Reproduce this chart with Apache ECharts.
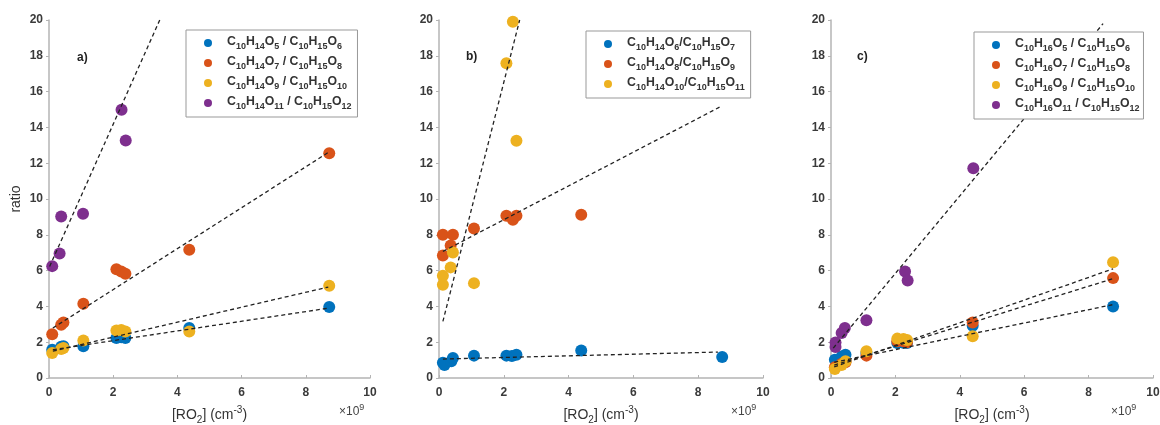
<!DOCTYPE html>
<html>
<head>
<meta charset="utf-8">
<script src="https://cdn.jsdelivr.net/npm/echarts@6/dist/echarts.min.js"></script>
<style>
  html, body { margin: 0; padding: 0; background: #fff; }
  #chart { width: 1160px; height: 425px; }
</style>
</head>
<body>
<div id="chart"></div>
<script>
// RO2 concentrations (x 1e9 cm-3) and ratios
var xA = [0.1, 0.38, 0.45, 1.07, 2.1, 2.25, 2.38, 4.37, 8.73];
var aBlue = [1.58, 1.75, 1.77, 1.78, 2.23, 2.28, 2.23, 2.8, 3.97];
var aOrange = [2.45, 2.98, 3.1, 4.15, 6.08, 5.95, 5.82, 7.16, 12.56];
var aYellow = [1.4, 1.62, 1.67, 2.1, 2.65, 2.68, 2.6, 2.6, 5.15];
var xAPurple = [0.1, 0.33, 0.38, 1.06, 2.26, 2.39];
var aPurple = [6.25, 6.95, 9.02, 9.18, 14.98, 13.27];

var xBBlue = [0.12, 0.17, 0.38, 0.43, 1.08, 2.08, 2.25, 2.39, 4.39, 8.74];
var bBlue = [0.85, 0.72, 0.93, 1.12, 1.25, 1.25, 1.23, 1.3, 1.53, 1.17];
var xBOrange = [0.12, 0.43, 0.12, 0.36, 1.08, 2.08, 2.28, 2.39, 4.39];
var bOrange = [8.0, 8.0, 6.85, 7.4, 8.35, 9.06, 8.84, 9.06, 9.12];
var xBYellow = [0.12, 0.12, 0.36, 0.43, 1.08, 2.08, 2.28, 2.39];
var bYellow = [5.71, 5.21, 6.18, 7.01, 5.3, 17.58, 19.9, 13.25];

var xC = [0.12, 0.33, 0.45, 1.1, 2.06, 2.25, 2.36, 4.4, 8.76];
var cBlue = [1.02, 1.2, 1.3, 1.4, 1.95, 1.97, 1.95, 2.92, 4.0];
var cOrange = [0.6, 0.8, 0.88, 1.25, 2.05, 2.05, 2.0, 3.1, 5.58];
var cYellow = [0.5, 0.72, 0.93, 1.49, 2.2, 2.18, 2.12, 2.33, 6.47];
var xCPurple = [0.14, 0.14, 0.33, 0.43, 1.1, 2.3, 2.38, 4.42];
var cPurple = [1.73, 1.99, 2.51, 2.79, 3.22, 5.95, 5.45, 11.72];

// dashed fit lines: [x0, y0, x1, y1]
var fitA = [[0.12, 1.58, 8.7, 3.9], [0.12, 2.79, 8.7, 12.6], [0.12, 1.5, 8.7, 5.08], [0.02, 6.23, 3.45, 20]];
var fitB = [[0.12, 1.06, 8.61, 1.45], [0.12, 7.07, 8.66, 15.13], [0.12, 3.16, 2.49, 20]];
var fitC = [[0.1, 0.88, 8.76, 4.1], [0.1, 0.72, 8.76, 5.55], [0.1, 0.62, 8.76, 6.1], [0.07, 1.67, 8.45, 19.8]];

var namesA = ['C10H14O5 / C10H15O6', 'C10H14O7 / C10H15O8', 'C10H14O9 / C10H15O10', 'C10H14O11 / C10H15O12'];
var namesB = ['C10H14O6/C10H15O7', 'C10H14O8/C10H15O9', 'C10H14O10/C10H15O11'];
var namesC = ['C10H16O5 / C10H15O6', 'C10H16O7 / C10H15O8', 'C10H16O9 / C10H15O10', 'C10H16O11 / C10H15O12'];

var colors = ['#0072BD', '#D95319', '#EDB120', '#7E2F8E'];
var FONT = 'Liberation Sans';

// subscripts for the formula digits
function formula(name) {
  return name.replace(/([^0-9]+)|([0-9]+)/g, function (m, t, d) {
    return t ? '{n|' + t + '}' : '{s|' + d + '}';
  });
}
var legendRich = {
  n: { fontFamily: FONT, fontSize: 12.3, fontWeight: 'bold', color: '#333', lineHeight: 14, verticalAlign: 'top' },
  s: { fontFamily: FONT, fontSize: 9, fontWeight: 'bold', color: '#333', lineHeight: 10, padding: [6, 0, 0, 0], verticalAlign: 'top' }
};

function pairs(xs, ys) {
  return ys.map(function (y, i) { return [xs[i], y]; });
}

var grids = [
  { left: 49, top: 20, width: 321, height: 358, outerBoundsMode: 'none' },
  { left: 439, top: 20, width: 324, height: 358, outerBoundsMode: 'none' },
  { left: 831, top: 20, width: 322, height: 358, outerBoundsMode: 'none' }
];

var axisCol = '#b4b4b4';
var xAxes = [], yAxes = [];
grids.forEach(function (g, i) {
  xAxes.push({
    gridIndex: i, type: 'value', min: 0, max: 10, interval: 2,
    name: '{t|[RO}{s|2}{t|] (cm}{p|-3}{t|)}', nameLocation: 'middle', nameGap: 27,
    nameTextStyle: {
      rich: {
        t: { fontFamily: FONT, fontSize: 14, color: '#333', lineHeight: 16, padding: [3, 0, 0, 0], verticalAlign: 'top' },
        s: { fontFamily: FONT, fontSize: 10, color: '#333', lineHeight: 11, padding: [10, 0, 0, 0], verticalAlign: 'top' },
        p: { fontFamily: FONT, fontSize: 10, color: '#333', lineHeight: 11, verticalAlign: 'top' }
      }
    },
    axisLine: { lineStyle: { color: axisCol, width: 1.5 } },
    axisTick: { inside: true, length: 3, lineStyle: { color: axisCol } },
    axisLabel: { fontFamily: FONT, fontSize: 12, fontWeight: 'bold', color: '#3a3a3a', margin: 9 },
    splitLine: { show: false }
  });
  yAxes.push({
    gridIndex: i, type: 'value', min: 0, max: 20, interval: 2,
    name: i === 0 ? 'ratio' : '', nameLocation: 'middle', nameGap: 26,
    nameTextStyle: { fontFamily: FONT, fontSize: 14, color: '#333' },
    axisLine: { show: true, lineStyle: { color: axisCol, width: 1.5 } },
    axisTick: { show: true, inside: false, length: 3, lineStyle: { color: axisCol } },
    axisLabel: { fontFamily: FONT, fontSize: 12, fontWeight: 'bold', color: '#3a3a3a', margin: 6 },
    splitLine: { show: false }
  });
});

var series = [];
function addScatter(idx, name, xs, ys, color) {
  series.push({
    type: 'scatter', name: name, xAxisIndex: idx, yAxisIndex: idx,
    data: pairs(xs, ys), symbol: 'circle', symbolSize: 12,
    itemStyle: { color: color, opacity: 1 }, z: 2
  });
}
function addFits(idx, fits) {
  fits.forEach(function (f) {
    series.push({
      type: 'line', xAxisIndex: idx, yAxisIndex: idx, silent: true,
      data: [[f[0], f[1]], [f[2], f[3]]], symbol: 'none', z: 3,
      lineStyle: { color: '#222', width: 1.3, type: [4, 3] }
    });
  });
}

addScatter(0, namesA[0], xA, aBlue, colors[0]);
addScatter(0, namesA[1], xA, aOrange, colors[1]);
addScatter(0, namesA[2], xA, aYellow, colors[2]);
addScatter(0, namesA[3], xAPurple, aPurple, colors[3]);
addFits(0, fitA);

addScatter(1, namesB[0], xBBlue, bBlue, colors[0]);
addScatter(1, namesB[1], xBOrange, bOrange, colors[1]);
addScatter(1, namesB[2], xBYellow, bYellow, colors[2]);
addFits(1, fitB);

addScatter(2, namesC[0], xC, cBlue, colors[0]);
addScatter(2, namesC[1], xC, cOrange, colors[1]);
addScatter(2, namesC[2], xC, cYellow, colors[2]);
addScatter(2, namesC[3], xCPurple, cPurple, colors[3]);
addFits(2, fitC);

function legendAt(names, left, top, padR) {
  return {
    data: names, orient: 'vertical', left: left, top: top,
    padding: [6, padR, 6, 18], itemGap: 5, itemWidth: 8, itemHeight: 8,
    icon: 'circle', selectedMode: false,
    backgroundColor: '#fff', borderColor: '#999', borderWidth: 1,
    formatter: formula,
    textStyle: { padding: [0, 0, 0, 10], rich: legendRich }
  };
}

function panelText(x, y, t) {
  return { type: 'text', left: x, top: y, style: { text: t, fontFamily: FONT, fontSize: 12, fontWeight: 'bold', fill: '#222' } };
}
function timesTen(x) {
  return {
    type: 'text', left: x, top: 403,
    style: {
      text: '{t|\u00d710}{p|9}',
      rich: {
        t: { fontFamily: FONT, fontSize: 12, fill: '#444', lineHeight: 14, padding: [3, 0, 0, 0], verticalAlign: 'top' },
        p: { fontFamily: FONT, fontSize: 9, fill: '#444', lineHeight: 10, verticalAlign: 'top' }
      }
    }
  };
}

var myChart = echarts.init(document.getElementById('chart'));
var option = {
  backgroundColor: '#fff',
  animation: false,
  grid: grids,
  xAxis: xAxes,
  yAxis: yAxes,
  legend: [legendAt(namesA, 186, 30, 6), legendAt(namesB, 586, 31, 6), legendAt(namesC, 974, 32, 4)],
  graphic: [
    panelText(77, 52, 'a)'), panelText(466, 51, 'b)'), panelText(857, 51, 'c)'),
    timesTen(339), timesTen(731), timesTen(1111)
  ],
  series: series
};
myChart.setOption(option);
</script>
</body>
</html>
